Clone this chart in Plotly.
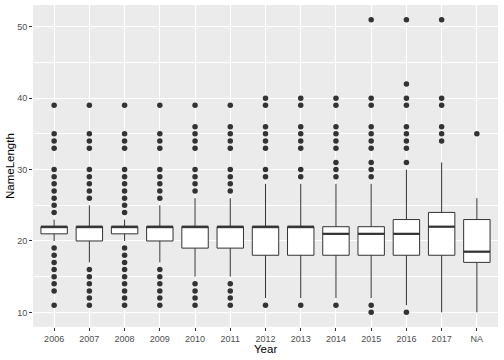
import plotly.graph_objects as go

years = ["2006", "2007", "2008", "2009", "2010", "2011", "2012",
         "2013", "2014", "2015", "2016", "2017", "NA"]
q1 = [21, 20, 21, 20, 19, 19, 18, 18, 18, 18, 18, 18, 17]
median = [22, 22, 22, 22, 22, 22, 22, 22, 21, 21, 21, 22, 18.5]
q3 = [22, 22, 22, 22, 22, 22, 22, 22, 22, 22, 23, 24, 23]
lower_whisker = [20, 17, 20, 17, 15, 15, 12, 12, 12, 12, 11, 10, 10]
upper_whisker = [23, 25, 23, 25, 26, 26, 28, 28, 28, 28, 30, 31, 26]
outliers = {
    "2006": [39, 35, 34, 33, 30, 29, 28, 27, 26, 25, 24, 19, 18, 17, 16, 15, 14, 13, 11],
    "2007": [39, 35, 34, 33, 30, 29, 28, 27, 26, 16, 15, 14, 13, 12, 11],
    "2008": [39, 35, 34, 33, 30, 29, 28, 27, 26, 25, 24, 19, 18, 17, 16, 15, 14, 13, 12, 11],
    "2009": [39, 35, 34, 33, 30, 29, 28, 27, 26, 16, 15, 14, 13, 12, 11],
    "2010": [39, 36, 35, 34, 33, 30, 29, 28, 27, 14, 13, 12, 11],
    "2011": [39, 36, 35, 34, 33, 30, 29, 28, 27, 14, 13, 12, 11],
    "2012": [40, 39, 36, 35, 34, 33, 30, 29, 11],
    "2013": [40, 39, 36, 35, 34, 33, 30, 29, 11],
    "2014": [40, 39, 36, 35, 34, 33, 31, 30, 29, 11],
    "2015": [51, 40, 39, 36, 35, 34, 33, 31, 30, 29, 11, 10],
    "2016": [51, 42, 40, 39, 36, 35, 34, 33, 31, 10],
    "2017": [51, 40, 39, 36, 35, 34],
    "NA": [35],
}

ink = "#333333"
box_width = 0.75
fig = go.Figure()
fig.add_trace(go.Box(
    x=years, q1=q1, median=median, q3=q3,
    lowerfence=lower_whisker, upperfence=upper_whisker,
    width=box_width,
    fillcolor="white", line=dict(color=ink, width=1),
    whiskerwidth=0, boxpoints=False, showlegend=False, hoverinfo="skip",
))
ox, oy = [], []
for yr in years:
    for v in outliers[yr]:
        ox.append(yr)
        oy.append(v)
fig.add_trace(go.Scatter(
    x=ox, y=oy, mode="markers",
    marker=dict(color=ink, size=5.5), showlegend=False, hoverinfo="skip",
))

half = box_width / 2
for i, m in enumerate(median):
    fig.add_shape(type="line", xref="x", yref="y",
                  x0=i - half, x1=i + half, y0=m, y1=m,
                  line=dict(color=ink, width=2.2))

font = "Liberation Sans, Arial, sans-serif"
fig.update_layout(
    width=504, height=360,
    margin=dict(l=33, r=6, t=5, b=33, autoexpand=False),
    paper_bgcolor="white", plot_bgcolor="#EBEBEB",
    font=dict(family=font, color="#4D4D4D", size=9),
)
fig.update_xaxes(
    type="category", categoryorder="array", categoryarray=years,
    range=[-0.6, 12.6], showgrid=True, gridcolor="white", gridwidth=1.1,
    ticks="outside", ticklen=3, tickcolor=ink, tickwidth=1,
    tickfont=dict(size=9, color="#4D4D4D"), automargin=False,
    zeroline=False, showline=False,
)
fig.update_yaxes(
    range=[7.95, 53.05], tickvals=[10, 20, 30, 40, 50],
    showgrid=True, gridcolor="white", gridwidth=1.1,
    minor=dict(tickvals=[15, 25, 35, 45], showgrid=True, gridcolor="white", gridwidth=0.55),
    ticks="outside", ticklen=3, tickcolor=ink, tickwidth=1,
    tickfont=dict(size=9, color="#4D4D4D"), automargin=False,
    zeroline=False, showline=False,
)
fig.add_annotation(text="Year", xref="paper", yref="paper", x=0.5, y=0,
                   yshift=-22, yanchor="middle", showarrow=False,
                   font=dict(size=11.5, color="black"))
fig.add_annotation(text="NameLength", xref="paper", yref="paper", x=0, y=0.5,
                   xshift=-23, xanchor="center", textangle=-90, showarrow=False,
                   font=dict(size=11.5, color="black"))
fig.write_html("out.html", config={"displayModeBar": False},
               post_script="document.body.style.margin='0';document.body.style.overflow='hidden';")
